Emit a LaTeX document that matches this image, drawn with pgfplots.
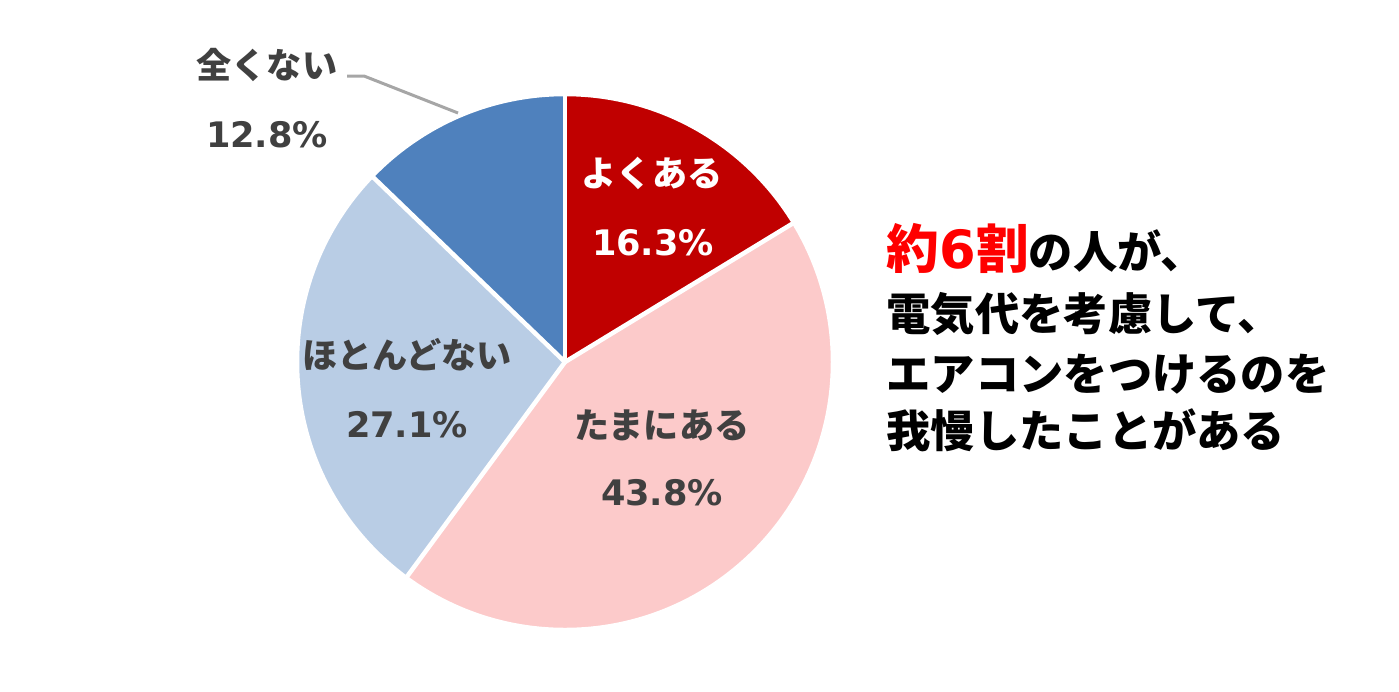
\documentclass[border=0pt]{standalone}
\usepackage{pgfplots}
\pgfplotsset{compat=1.18}
\usepackage{fontspec}
\setmainfont{Noto Sans CJK JP}
\newfontfamily\num{DejaVu Sans}
\definecolor{cRed}{HTML}{C00000}
\definecolor{cPink}{HTML}{FCCACA}
\definecolor{cLBlue}{HTML}{B9CDE5}
\definecolor{cBlue}{HTML}{4F81BD}
\definecolor{cTxt}{HTML}{404040}
\begin{document}
\begin{tikzpicture}
% data (percent)
\def\vA{16.3}\def\vB{43.8}\def\vC{27.1}\def\vD{12.8}
\pgfmathsetmacro\aO{90}
\pgfmathsetmacro\aA{\aO-3.6*\vA}
\pgfmathsetmacro\aB{\aA-3.6*\vB}
\pgfmathsetmacro\aC{\aB-3.6*\vC}
\pgfmathsetmacro\aD{\aC-3.6*\vD}
\def\R{2.68cm}
\def\Rx{2.73cm}
\tikzset{lab/.style={font=\bfseries\fontsize{10}{12}\selectfont, text=cTxt, inner sep=0pt},
         pct/.style={font=\num\bfseries\fontsize{10}{12}\selectfont, text=cTxt, inner sep=0pt},
         rt/.style={font=\bfseries\fontsize{12.6}{14}\selectfont, text=black, inner sep=0pt, anchor=base west}}
\begin{axis}[scale only axis, width=13.99cm, height=6.91cm,
  xmin=0, xmax=1399, ymin=0, ymax=691, hide axis, clip=false]
\path[use as bounding box] (axis cs:0,0) rectangle (axis cs:1399,691);
\fill[cRed]   (axis cs:565,329) -- ++(\aO:\R) arc[start angle=\aO, end angle=\aA, radius=\R] -- cycle;
\fill[cPink]  (axis cs:565,329) -- ++(\aA:\R) arc[start angle=\aA, end angle=\aB, radius=\R] -- cycle;
\fill[cLBlue] (axis cs:565,329) -- ++(\aB:\R) arc[start angle=\aB, end angle=\aC, radius=\R] -- cycle;
\fill[cBlue]  (axis cs:565,329) -- ++(\aC:\R) arc[start angle=\aC, end angle=\aD, radius=\R] -- cycle;
\draw[white, line width=0.045cm] (axis cs:565,329) -- ++(\aO:\Rx);
\draw[white, line width=0.045cm] (axis cs:565,329) -- ++(\aA:\Rx);
\draw[white, line width=0.045cm] (axis cs:565,329) -- ++(\aB:\Rx);
\draw[white, line width=0.045cm] (axis cs:565,329) -- ++(\aC:\Rx);
\draw[white, line width=0.045cm] (axis cs:565,329) circle[radius=\R];
% labels
\node[lab, text=white] at (axis cs:652,518) {よくある};
\node[pct, text=white] at (axis cs:653,448) {16.3\%};
\node[lab] at (axis cs:662,266) {たまにある};
\node[pct] at (axis cs:662,198) {43.8\%};
\node[lab] at (axis cs:407,336) {ほとんどない};
\node[pct] at (axis cs:407,266) {27.1\%};
\node[lab] at (axis cs:267,626) {全くない};
\node[pct] at (axis cs:267,556) {12.8\%};
\draw[color=black!35, line width=0.03cm] (axis cs:347,615) -- (axis cs:364,615) -- (axis cs:458,578);
% right text
\node[rt] at (axis cs:886,423) {{\color{red}\fontsize{15}{17}\selectfont 約{\num\bfseries 6}割}の人が、};
\node[rt] at (axis cs:886,361) {電気代を考慮して、};
\node[rt] at (axis cs:886,301) {エアコンをつけるのを};
\node[rt] at (axis cs:886,244) {我慢したことがある};
\end{axis}
\end{tikzpicture}
\end{document}
